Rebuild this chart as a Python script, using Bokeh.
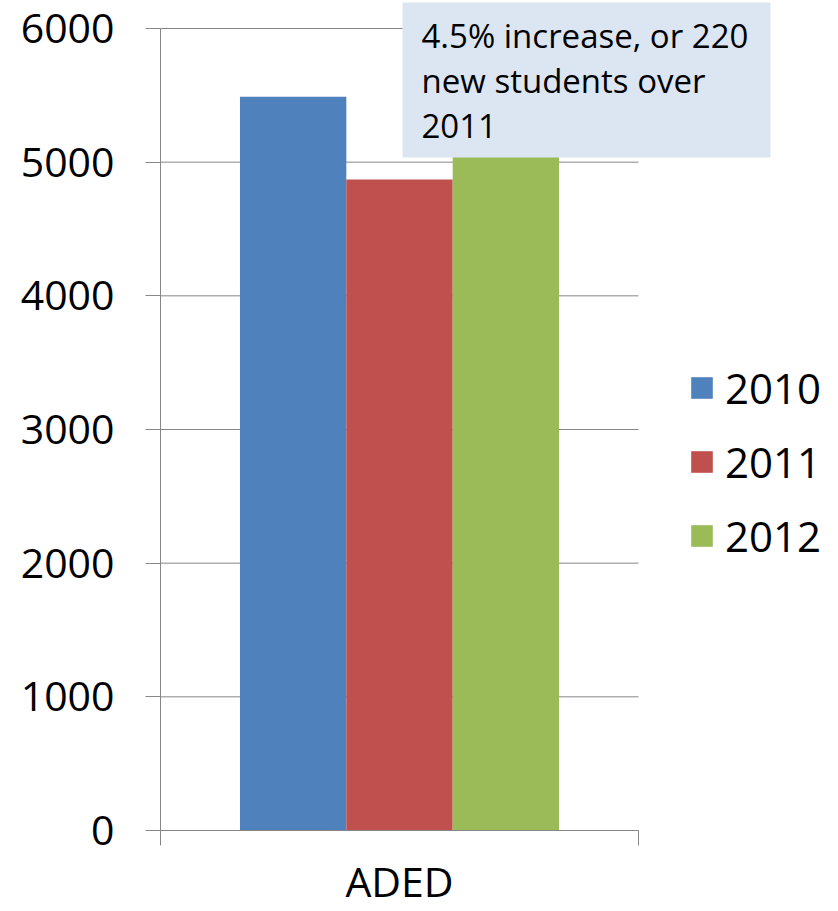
from bokeh.plotting import figure
from bokeh.models import (ColumnDataSource, Range1d, FixedTicker, BoxAnnotation, Label)
from bokeh.embed import file_html
from bokeh.resources import INLINE

# ---- data ----
categories = ["ADED"]
years = ["2010", "2011", "2012"]
values = [5490, 4870, 5090]
colors = ["#4F81BD", "#C0504D", "#9BBB59"]
y_ticks = [0, 1000, 2000, 3000, 4000, 5000, 6000]
note_lines = ["4.5% increase, or 220", "new students over", "2011"]

FONT = "Open Sans"
GRID = "#868686"

# ---- layout (pixels) ----
W, H = 838, 911
AX_L, AX_R, AX_T, AX_B = 160, 638, 28, 830   # axes box in page pixels
frame_w = W - AX_L
frame_h = AX_B
x_end = frame_w / (AX_R - AX_L)               # data 0..1 spans the axes box
y_end = 6000 * frame_h / (AX_B - AX_T)

bar_w = 0.2225
cat_center = 0.5
xs = [cat_center + (i - 1) * bar_w for i in range(len(years))]
src = ColumnDataSource(dict(x=xs, top=values, color=colors, year=years))

p = figure(width=W, height=H, output_backend="svg", toolbar_location=None,
           x_range=Range1d(0, x_end), y_range=Range1d(0, y_end),
           min_border_left=AX_L, min_border_right=0, min_border_top=0,
           min_border_bottom=H - AX_B)
p.outline_line_color = None
p.background_fill_color = "white"
p.border_fill_color = "white"
p.xgrid.grid_line_color = None
p.ygrid.grid_line_color = None

# gridlines limited to the axes box
p.segment(x0=[0] * len(y_ticks), x1=[1] * len(y_ticks), y0=y_ticks, y1=y_ticks,
          line_color=GRID, line_width=1)

p.vbar(x="x", top="top", width=bar_w, bottom=0, source=src, color="color",
       line_color=None, legend_field="year")

# y axis
ya = p.yaxis[0]
ya.bounds = (0, 6000)
ya.ticker = FixedTicker(ticks=y_ticks, minor_ticks=[])
ya.axis_line_color = GRID
ya.major_tick_line_color = GRID
ya.major_tick_out = 15
ya.major_tick_in = 0
ya.minor_tick_line_color = None
ya.major_label_standoff = 31
ya.major_label_text_font = FONT
ya.major_label_text_font_size = "41px"
ya.major_label_text_color = "black"

# x axis
xa = p.xaxis[0]
xa.bounds = (0, 1)
xa.axis_label = None
xa.ticker = FixedTicker(ticks=[cat_center], minor_ticks=[0, 1])
xa.major_label_overrides = {cat_center: categories[0]}
xa.axis_line_color = GRID
xa.major_tick_out = 0
xa.major_tick_in = 0
xa.major_tick_line_color = None
xa.minor_tick_line_color = GRID
xa.minor_tick_out = 15
xa.minor_tick_in = 0
xa.major_label_standoff = 7
xa.major_label_text_font = FONT
xa.major_label_text_font_size = "41px"
xa.major_label_text_color = "black"

# annotation box
def px_x(v):
    return (v - AX_L) / (AX_R - AX_L)

def px_y(v):
    return (AX_B - v) / (AX_B - AX_T) * 6000

p.add_layout(BoxAnnotation(left=px_x(402), right=px_x(770), bottom=px_y(157), top=px_y(2),
                           fill_color="#DCE6F2", fill_alpha=1.0, line_color=None))
for t, yb in zip(note_lines, [35, 80, 125]):
    p.add_layout(Label(x=px_x(421), y=px_y(yb), text=t, text_font=FONT,
                       text_font_size="33px", text_color="black",
                       text_baseline="alphabetic"))

# legend
lg = p.legend[0]
lg.location = (688 - AX_L, 266)
lg.padding = 0
lg.margin = 0
lg.border_line_color = None
lg.background_fill_alpha = 0
lg.glyph_width = 27
lg.glyph_height = 27
lg.label_standoff = 10
lg.spacing = 17
lg.label_text_font = FONT
lg.label_text_font_size = "42px"
lg.label_text_color = "black"

open("out.html", "w").write(file_html(p, INLINE))
